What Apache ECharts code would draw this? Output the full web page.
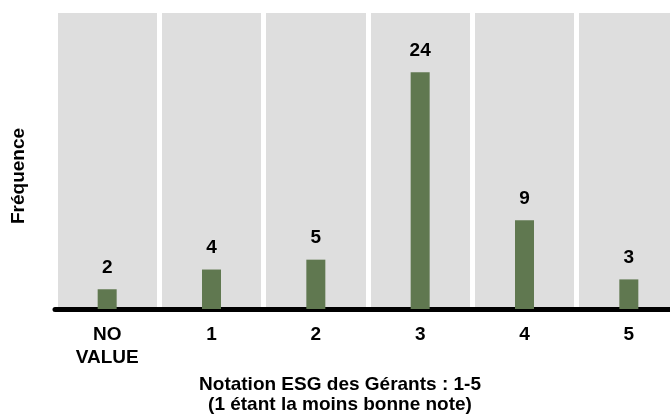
<!DOCTYPE html>
<html><head><meta charset="utf-8">
<script src="https://cdn.jsdelivr.net/npm/echarts@6/dist/echarts.min.js"></script>
<style>html,body{margin:0;padding:0;background:#fff;overflow:hidden;width:670px;height:418px}#c{width:700px;height:418px}</style>
</head><body><div id="c"></div>
<script>
const categories = ['NO\nVALUE', '1', '2', '3', '4', '5'];
const frequencies = [2, 4, 5, 24, 9, 3];
const yAxisTitle = 'Fréquence';
const xAxisTitleLines = ['Notation ESG des Gérants : 1-5', '(1 étant la moins bonne note)'];

const FONT = 'Liberation Sans, Arial, sans-serif';
const chart = echarts.init(document.getElementById('c'), null, {renderer: 'canvas'});
chart.setOption({
  animation: false,
  backgroundColor: '#ffffff',
  grid: {left: 55, top: 13, width: 626, height: 296},
  xAxis: {
    type: 'category',
    data: categories,
    boundaryGap: true,
    axisLine: {show: true, lineStyle: {color: '#000', width: 5}},
    axisTick: {show: false},
    axisLabel: {color: '#000', fontWeight: 'bold', fontSize: 19, fontFamily: FONT, margin: 14, lineHeight: 23, interval: 0},
    splitArea: {show: true, areaStyle: {color: ['#dedede']}},
    splitLine: {show: true, lineStyle: {color: '#ffffff', width: 5}}
  },
  yAxis: {
    type: 'value', min: 0, max: 30,
    show: true,
    axisLine: {show: false}, axisTick: {show: false}, axisLabel: {show: false}, splitLine: {show: false}
  },
  series: [{
    type: 'bar',
    data: frequencies,
    barWidth: 19,
    itemStyle: {color: '#607850'},
    label: {show: true, position: 'top', distance: 12, color: '#000', fontWeight: 'bold', fontSize: 19, fontFamily: FONT}
  }],
  graphic: [
    {type: 'text', x: 19, y: 176, rotation: Math.PI / 2,
     style: {text: yAxisTitle, fill: '#000', font: 'bold 19px ' + FONT, textAlign: 'center', textVerticalAlign: 'middle'}},
    {type: 'text', x: 340, y: 385,
     style: {text: xAxisTitleLines[0], fill: '#000', font: 'bold 19px ' + FONT, textAlign: 'center', textVerticalAlign: 'middle'}},
    {type: 'text', x: 340, y: 405,
     style: {text: xAxisTitleLines[1], fill: '#000', font: 'bold 19px ' + FONT, textAlign: 'center', textVerticalAlign: 'middle'}}
  ]
});
</script></body></html>
